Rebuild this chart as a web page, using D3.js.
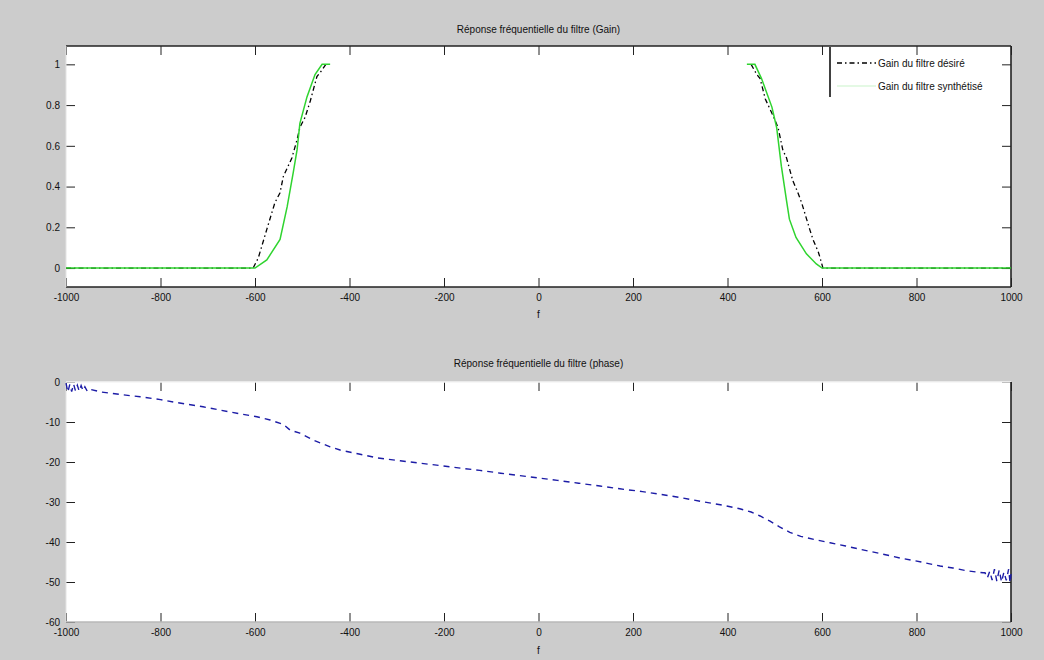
<!DOCTYPE html>
<html>
<head>
<meta charset="utf-8">
<script src="https://cdn.jsdelivr.net/npm/d3@7"></script>
<style>
  body { margin: 0; background: #cccccc; }
  svg text { font-family: "Liberation Sans", Arial, sans-serif; font-size: 10px; fill: #111; }
</style>
</head>
<body>
<svg id="fig" width="1044" height="660"></svg>
<script>
// Frequency axis ticks (shared by both subplots)
const freqTicks = [-1000, -800, -600, -400, -200, 0, 200, 400, 600, 800, 1000];
const gainTicks = [0, 0.2, 0.4, 0.6, 0.8, 1];
const gainTickLabels = ["0", "0.2", "0.4", "0.6", "0.8", "1"];
const phaseTicks = [0, -10, -20, -30, -40, -50, -60];

// Desired filter gain (null = no sample in the pass band)
const desiredF = [-1000, -604, -593, -575, -558, -547, -540, -522, -511, -505, -494, -483, -469, -462, -450,
                  null,
                  450, 462, 469, 480, 486, 494, 507, 517, 525, 538, 549, 557, 574, 581, 592, 596, 602, 1000];
const desiredG = [0, 0, 0.05, 0.19, 0.32, 0.37, 0.45, 0.54, 0.63, 0.69, 0.74, 0.82, 0.94, 0.96, 1,
                  null,
                  1, 0.95, 0.93, 0.83, 0.80, 0.76, 0.69, 0.58, 0.54, 0.43, 0.37, 0.32, 0.19, 0.14, 0.08, 0.05, 0, 0];

// Synthesised filter gain
const synthF = [-1000, -600, -575, -547, -532, -519, -511, -505, -490, -473, -458, -441,
                null,
                441, 458, 472, 494, 504, 514, 525, 531, 545, 567, 588, 600, 1000];
const synthG = [0, 0, 0.04, 0.14, 0.30, 0.47, 0.58, 0.71, 0.84, 0.95, 1, 1,
                null,
                1, 1, 0.93, 0.79, 0.69, 0.50, 0.33, 0.24, 0.15, 0.07, 0.02, 0, 0];

// Phase of the synthesised filter
const phaseF = [-1000, -996, -992, -988, -984, -980, -976, -972, -968, -964, -960, -955, -950,
                -926, -880, -843, -800, -773, -710, -653, -610, -596, -568, -540, -526, -505, -477, -441,
                -420, -380, -340, -293, -250, -208, -160, -124, -80, -40, 0, 40, 85, 130, 172, 220, 260,
                300, 342, 390, 426, 450, 469, 490, 510, 532, 555, 585, 617, 650, 680, 720, 765, 810, 850,
                877, 907, 941, 945, 950, 955, 960, 965, 970, 975, 980, 985, 990, 995, 998, 1000];
const phaseV = [-0.3, -2.5, -0.6, -2.4, -0.5, -2.2, -0.8, -2.3, -0.9, -2.2, -1.2, -2.3, -1.8,
                -2.5, -3.2, -3.7, -4.4, -5.0, -6.2, -7.5, -8.4, -8.7, -9.5, -10.6, -12, -12.8, -14.5, -16.2,
                -17, -18, -19, -19.7, -20.3, -20.9, -21.6, -22.1, -22.8, -23.4, -24, -24.6, -25.3, -26, -26.7, -27.4, -28.1,
                -28.9, -29.8, -30.8, -31.7, -32.5, -33.5, -34.8, -36.2, -37.6, -38.6, -39.4, -40.2, -41, -41.8, -42.8, -44, -45, -46,
                -46.5, -47.2, -47.7, -47.7, -49, -47.3, -49.5, -46.8, -49.8, -47, -50, -47.5, -49.6, -46.8, -50.2, -48];

const svg = d3.select("#fig");
const W = 1044, H = 660;
svg.append("rect").attr("width", W).attr("height", H).attr("fill", "#cccccc");

const x = d3.scaleLinear().domain([-1000, 1000]).range([66, 1011]);
const plainNum = d => String(d);

function drawAxes(g, y, yTicks, yFmt, edges) {
  const [top, bottom] = [y.range()[1], y.range()[0]];
  g.append("rect").attr("x", x.range()[0]).attr("y", top)
    .attr("width", x.range()[1] - x.range()[0]).attr("height", bottom - top)
    .attr("fill", "#ffffff");
  // bottom axis with inward ticks and labels
  const xb = g.append("g").attr("transform", `translate(0,${bottom})`)
    .call(d3.axisBottom(x).tickValues(freqTicks).tickFormat(plainNum).tickSize(-9).tickPadding(7));
  // top edge ticks
  const xt = g.append("g").attr("transform", `translate(0,${top})`)
    .call(d3.axisTop(x).tickValues(freqTicks).tickFormat("").tickSize(-9));
  const yl = g.append("g").attr("transform", `translate(${x.range()[0]},0)`)
    .call(d3.axisLeft(y).tickValues(yTicks).tickFormat(yFmt).tickSize(-9).tickPadding(6));
  const yr = g.append("g").attr("transform", `translate(${x.range()[1]},0)`)
    .call(d3.axisRight(y).tickValues(yTicks).tickFormat("").tickSize(-9));
  [xb, xt, yl, yr].forEach(a => {
    a.select(".domain").remove();
    a.selectAll("line").attr("stroke", "#222").attr("stroke-width", 1);
    a.selectAll("text").attr("fill", "#111").style("font-size", "10px")
      .style("font-family", '"Liberation Sans", Arial, sans-serif');
  });
  // box edges
  const x0 = x.range()[0], x1 = x.range()[1];
  const segs = {
    top: [x0, top, x1, top], bottom: [x0, bottom, x1, bottom],
    left: [x0, top, x0, bottom], right: [x1, top, x1, bottom]
  };
  Object.keys(segs).forEach(k => {
    const s = segs[k];
    g.append("line").attr("x1", s[0]).attr("y1", s[1]).attr("x2", s[2]).attr("y2", s[3])
      .attr("stroke", edges[k]).attr("stroke-width", k === "left" ? 1 : 1.6);
  });
}

// ---------- Gain subplot ----------
const yGain = d3.scaleLinear().domain([-0.093, 1.09]).range([287, 46]);
const gTop = svg.append("g");
drawAxes(gTop, yGain, gainTicks, (d, i) => gainTickLabels[i],
  { top: "#222", bottom: "#222", right: "#222", left: "#e4e4e4" });

const gainLine = d3.line()
  .defined((d) => d[0] !== null)
  .x(d => x(d[0])).y(d => yGain(d[1]));

gTop.append("path")
  .datum(desiredF.map((f, i) => [f, desiredG[i]]))
  .attr("d", gainLine).attr("fill", "none")
  .attr("stroke", "#000").attr("stroke-width", 1.3)
  .attr("stroke-dasharray", "5,3,1.5,3");

gTop.append("path")
  .datum(synthF.map((f, i) => [f, synthG[i]]))
  .attr("d", gainLine).attr("fill", "none")
  .attr("stroke", "#2fd42f").attr("stroke-width", 1.5);

gTop.append("text").attr("x", x(0)).attr("y", 33).attr("text-anchor", "middle")
  .text("Réponse fréquentielle du filtre (Gain)");
gTop.append("text").attr("x", x(0)).attr("y", 318).attr("text-anchor", "middle").text("f");

// legend
const leg = gTop.append("g");
leg.append("line").attr("x1", 830).attr("y1", 47).attr("x2", 830).attr("y2", 97)
  .attr("stroke", "#111").attr("stroke-width", 1.6);
leg.append("line").attr("x1", 837).attr("y1", 63).attr("x2", 876).attr("y2", 63)
  .attr("stroke", "#000").attr("stroke-width", 1.3).attr("stroke-dasharray", "5,3,1.5,3");
leg.append("line").attr("x1", 837).attr("y1", 86).attr("x2", 876).attr("y2", 86)
  .attr("stroke", "#2fd42f").attr("stroke-width", 1).attr("opacity", 0.25);
leg.append("text").attr("x", 878).attr("y", 67).text("Gain du filtre désiré");
leg.append("text").attr("x", 878).attr("y", 90).text("Gain du filtre synthétisé");

// ---------- Phase subplot ----------
const yPhase = d3.scaleLinear().domain([-60, 0]).range([622, 382]);
const gBot = svg.append("g");
drawAxes(gBot, yPhase, phaseTicks, plainNum,
  { top: "#f4f4f4", bottom: "#b8b8b8", right: "#222", left: "#e4e4e4" });

const phaseLine = d3.line().x(d => x(d[0])).y(d => yPhase(d[1]));
gBot.append("path")
  .datum(phaseF.map((f, i) => [f, phaseV[i]]))
  .attr("d", phaseLine).attr("fill", "none")
  .attr("stroke", "#1c1ca6").attr("stroke-width", 1.4)
  .attr("stroke-dasharray", "6,5");

gBot.append("text").attr("x", x(0)).attr("y", 367).attr("text-anchor", "middle")
  .text("Réponse fréquentielle du filtre (phase)");
gBot.append("text").attr("x", x(0)).attr("y", 654).attr("text-anchor", "middle").text("f");
</script>
</body>
</html>
